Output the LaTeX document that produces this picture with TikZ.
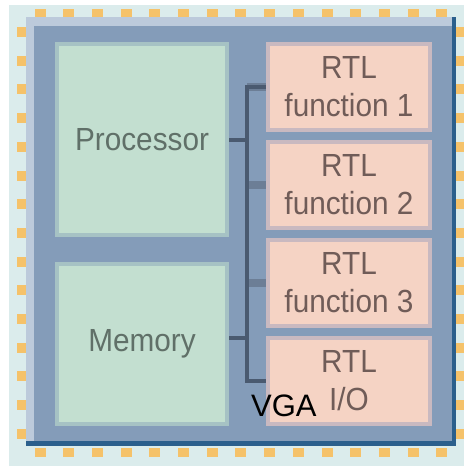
\documentclass[tikz,border=0pt]{standalone}
\usepackage{fontspec}
\setmainfont{Liberation Sans}
\newfontfamily\chipfont[FakeStretch=0.93]{Liberation Sans}
\usepackage{xcolor}
\definecolor{boardcyan}{RGB}{219,236,236}
\definecolor{pinorange}{RGB}{245,194,106}
\definecolor{chipblue}{RGB}{132,156,185}
\definecolor{chiplight}{RGB}{188,202,219}
\definecolor{chipdark}{RGB}{43,95,140}
\definecolor{procgreen}{RGB}{195,223,208}
\definecolor{greenrim}{RGB}{166,194,196}
\definecolor{rtlpink}{RGB}{245,211,196}
\definecolor{pinkrim}{RGB}{201,185,192}
\definecolor{busgray}{RGB}{74,90,112}
\definecolor{stubgray}{RGB}{108,126,150}
\definecolor{greentext}{RGB}{96,112,104}
\definecolor{pinktext}{RGB}{112,92,88}

\tikzset{
  cpubox/.style={draw=greenrim, fill=procgreen, line width=4pt, inner sep=0pt,
    minimum width=170pt, text=greentext, font=\chipfont\fontsize{32}{38}\selectfont},
  rtlbox/.style={draw=pinkrim, fill=rtlpink, line width=4pt, inner sep=0pt,
    minimum width=162pt, minimum height=86pt, text=pinktext, align=center,
    font=\chipfont\fontsize{32}{38}\selectfont},
  bus/.style={busgray, line width=4pt},
  stub/.style={stubgray, line width=8pt}
}

\begin{document}
\begin{tikzpicture}[x=1pt, y=-1pt]
    \useasboundingbox (0,0) rectangle (464,466);

    % Board background
    \fill[boardcyan] (9,5) rectangle (464,466);

    % Package pins
    \foreach \k in {0,...,14} {
        \fill[pinorange] ({34.5+28.7*\k},9) rectangle ++(11,8);
        \fill[pinorange] ({34.5+28.7*\k},448) rectangle ++(11,9);
        \fill[pinorange] (17,{27+28.7*\k}) rectangle ++(9,10);
        \fill[pinorange] (456,{27+28.7*\k}) rectangle ++(8,10);
    }

    % Chip body
    \fill[chipdark] (26,17) rectangle (456,446);
    \fill[chiplight] (26,17) rectangle (452,441);
    \fill[chipblue] (34,26) rectangle (452,441);

    % Blocks
    \node[cpubox, minimum height=191pt] (proc) at (142,139.5) {Processor};
    \node[cpubox, minimum height=160pt] (mem) at (142,344) {Memory};
    \node[rtlbox] (rtl1) at (349,87) {RTL\\function 1};
    \node[rtlbox] (rtl2) at (349,185) {RTL\\function 2};
    \node[rtlbox] (rtl3) at (349,283) {RTL\\function 3};
    \node[rtlbox] (rtlio) at (349,381) {RTL\\I/O};

    % Bus
    \coordinate (bus) at (247,0);
    \foreach \n in {rtl1,rtl2,rtl3}
        \draw[stub] (\n.west -| bus) -- (\n.west);
    \draw[bus] (rtl1.west) -- (rtl1.west -| bus) -- (rtlio.west -| bus) -- (rtlio.west);
    \draw[bus] (proc.east) -- (proc.east -| bus);
    \draw[bus] ([yshift=6pt]mem.east) -- ([yshift=6pt]mem.east -| bus);

    % Label
    \node[font=\fontsize{31}{31}\selectfont, anchor=base west, inner sep=0pt] (vga) at (251,416) {VGA};
\end{tikzpicture}
\end{document}
